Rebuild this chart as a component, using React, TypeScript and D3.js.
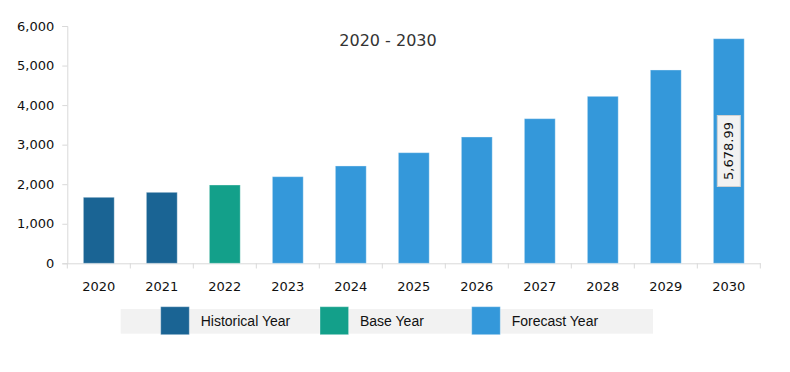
import { useEffect, useRef } from 'react'
import * as d3 from 'd3'

const years = ['2020', '2021', '2022', '2023', '2024', '2025', '2026', '2027', '2028', '2029', '2030']
const values = [1669, 1795, 1980, 2190, 2461, 2797, 3194, 3657, 4222, 4888, 5678.99]
const kinds = ['Historical', 'Historical', 'Base', 'Forecast', 'Forecast', 'Forecast', 'Forecast', 'Forecast', 'Forecast', 'Forecast', 'Forecast']
const yTicks = [0, 1000, 2000, 3000, 4000, 5000, 6000]
const legendItems = [
  { key: 'Historical', label: 'Historical Year' },
  { key: 'Base', label: 'Base Year' },
  { key: 'Forecast', label: 'Forecast Year' },
]
const colors: Record<string, string> = {
  Historical: '#1a6494',
  Base: '#13a08a',
  Forecast: '#3498da',
}

const W = 790
const H = 372
const axisFont = '"DejaVu Sans", Verdana, sans-serif'

export default function App() {
  const ref = useRef<SVGSVGElement>(null)

  useEffect(() => {
    const svg = d3.select(ref.current)
    svg.selectAll('*').remove()

    const x = d3.scaleBand<string>().domain(years).range([67.3, 760.3]).paddingInner(0).paddingOuter(0)
    const y = d3.scaleLinear().domain([0, 6000]).range([263.3, 26])
    const barW = x.bandwidth() * 0.49

    // Title
    svg.append('text')
      .attr('x', 388).attr('y', 45.5)
      .attr('text-anchor', 'middle')
      .style('font-family', axisFont)
      .style('font-size', '16px')
      .attr('fill', '#333')
      .text('2020 - 2030')

    // Y axis
    const yAxis = svg.append('g')
      .attr('transform', 'translate(67.3,0)')
      .call(d3.axisLeft(y).tickValues(yTicks).tickSize(5).tickPadding(8).tickFormat(d3.format(',')))
    yAxis.select('.domain').attr('stroke', '#d9d9d9')
    yAxis.selectAll('.tick line').attr('stroke', '#d9d9d9')
    yAxis.selectAll('text')
      .style('font-family', axisFont)
      .style('font-size', '13px')
      .attr('fill', '#111')

    // X axis
    const xAxis = svg.append('g')
      .attr('transform', 'translate(0,263.3)')
      .call(d3.axisBottom(x).tickSize(0).tickPadding(18))
    xAxis.select('.domain').attr('stroke', '#d9d9d9')
    xAxis.selectAll('text')
      .style('font-family', axisFont)
      .style('font-size', '13px')
      .attr('fill', '#111')
    // boundary ticks
    const bounds = years.map(yr => x(yr) as number).concat([(x(years[years.length - 1]) as number) + x.step()])
    svg.append('g').selectAll('line').data(bounds).join('line')
      .attr('x1', d => d).attr('x2', d => d)
      .attr('y1', 263.3).attr('y2', 268.5)
      .attr('stroke', '#d9d9d9')

    // Bars
    svg.append('g').selectAll('rect').data(years).join('rect')
      .attr('x', (d) => (x(d) as number) + (x.bandwidth() - barW) / 2)
      .attr('y', (_, i) => y(values[i]))
      .attr('width', barW)
      .attr('height', (_, i) => y(0) - y(values[i]))
      .attr('fill', (_, i) => colors[kinds[i]])
      .attr('stroke', 'rgba(255,255,255,0.35)')
      .attr('stroke-width', 1)

    // Data label on last bar
    const last = years.length - 1
    const cx = (x(years[last]) as number) + x.bandwidth() / 2
    const cy = (y(values[last]) + y(0)) / 2
    const lab = svg.append('g').attr('transform', `translate(${cx},${cy}) rotate(-90)`)
    lab.append('rect')
      .attr('x', -35.5).attr('y', -11.5)
      .attr('width', 71).attr('height', 23)
      .attr('fill', '#f2f2f2')
      .attr('stroke', '#d0d0d0')
    lab.append('text')
      .attr('text-anchor', 'middle')
      .attr('dy', '0.36em')
      .style('font-family', axisFont)
      .style('font-size', '13px')
      .attr('fill', '#111')
      .text(d3.format(',.2f')(values[last]))

    // Legend
    const legend = svg.append('g')
    legend.append('rect')
      .attr('x', 120.7).attr('y', 309)
      .attr('width', 532.3).attr('height', 24.7)
      .attr('fill', '#f2f2f2')
    const lx = [160.7, 320, 471.7]
    legendItems.forEach((item, i) => {
      legend.append('rect')
        .attr('x', lx[i]).attr('y', 306.7)
        .attr('width', 28.6).attr('height', 28)
        .attr('fill', colors[item.key])
        .attr('stroke', 'rgba(255,255,255,0.35)')
      legend.append('text')
        .attr('x', lx[i] + 40).attr('y', 325.8)
        .style('font-family', '"Liberation Sans", Arial, sans-serif')
        .style('font-size', '14px')
        .attr('fill', '#111')
        .text(item.label)
    })
  }, [])

  return (
    <svg
      ref={ref}
      width={W}
      height={H}
      viewBox={`0 0 ${W} ${H}`}
      style={{ position: 'absolute', left: 0, top: 0, background: '#fff' }}
    />
  )
}
